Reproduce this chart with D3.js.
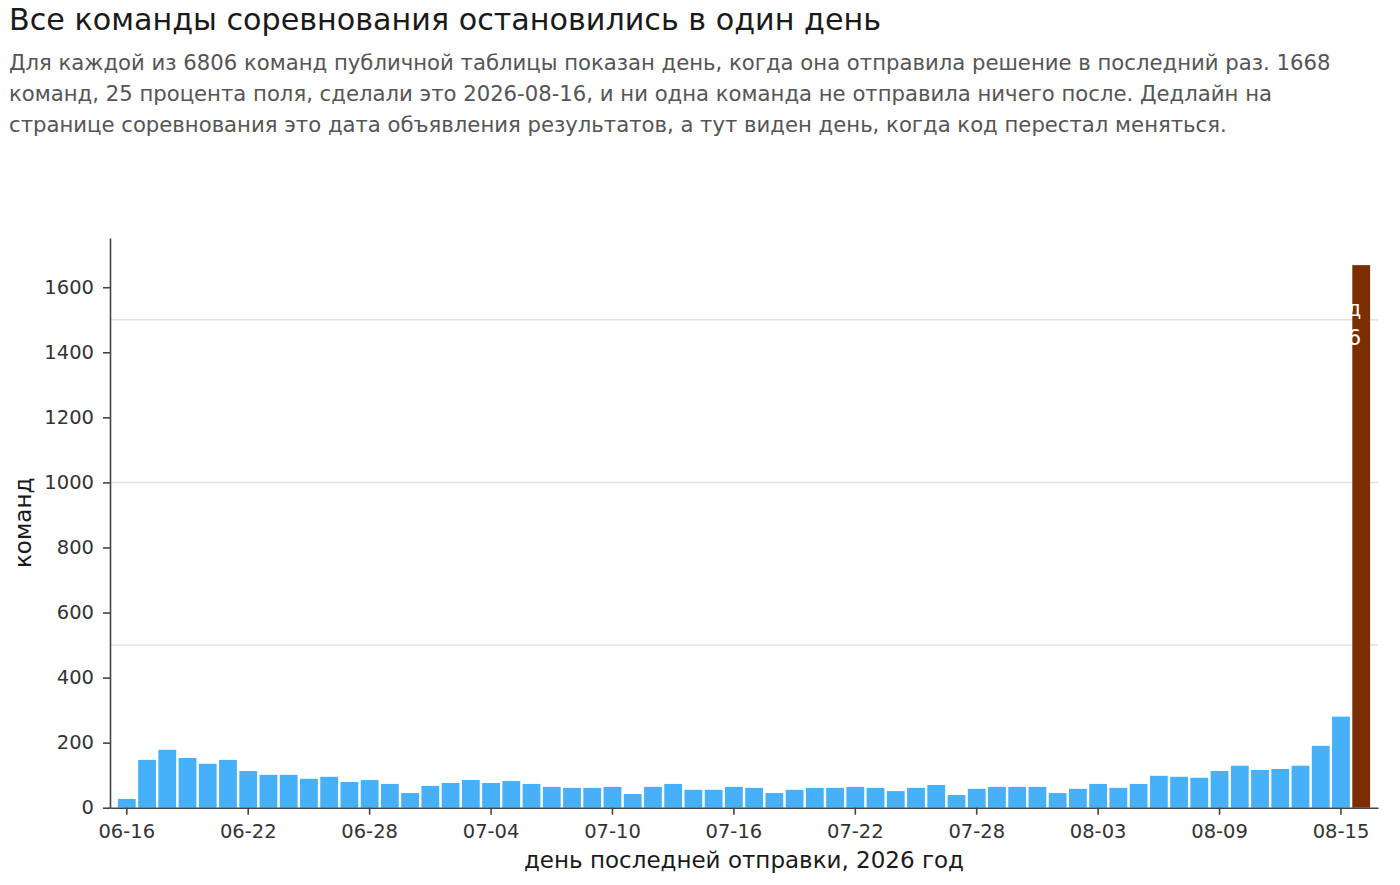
<!DOCTYPE html>
<html>
<head>
<meta charset="utf-8">
<script src="https://cdn.jsdelivr.net/npm/d3@7"></script>
<style>
  html, body { margin: 0; padding: 0; background: #fff; }
  text { font-family: "DejaVu Sans", sans-serif; }
</style>
</head>
<body>
<script>
const days = [
  "06-16","06-17","06-18","06-19","06-20","06-21","06-22","06-23","06-24","06-25",
  "06-26","06-27","06-28","06-29","06-30","07-01","07-02","07-03","07-04","07-05",
  "07-06","07-07","07-08","07-09","07-10","07-11","07-12","07-13","07-14","07-15",
  "07-16","07-17","07-18","07-19","07-20","07-21","07-22","07-23","07-24","07-25",
  "07-26","07-27","07-28","07-29","07-30","07-31","08-01","08-02","08-03","08-04",
  "08-05","08-06","08-07","08-08","08-09","08-10","08-11","08-12","08-13","08-14",
  "08-15","08-16"
];
const teams = [
  27,147,178,153,135,147,113,101,101,89,
  95,79,85,73,45,67,76,85,76,82,
  73,64,61,61,64,42,64,73,55,55,
  64,61,45,55,61,61,64,61,51,61,
  70,39,58,64,64,64,45,58,73,61,
  73,98,95,92,113,129,116,119,129,190,
  280,1668
];
const lastDay = "08-16";
const xTicks = ["06-16","06-22","06-28","07-04","07-10","07-16","07-22","07-28","08-03","08-09","08-15"];
const yTicks = [0,200,400,600,800,1000,1200,1400,1600];
const gridValues = [500,1000,1500];
const titleText = "Все команды соревнования остановились в один день";
const subtitleLines = [
  "Для каждой из 6806 команд публичной таблицы показан день, когда она отправила решение в последний раз. 1668",
  "команд, 25 процента поля, сделали это 2026-08-16, и ни одна команда не отправила ничего после. Дедлайн на",
  "странице соревнования это дата объявления результатов, а тут виден день, когда код перестал меняться."
];
const barLabelLines = ["1668 команд", "2026-08-16"];
const xLabel = "день последней отправки, 2026 год";
const yLabel = "команд";

const W = 1400, H = 885;
const L = 110, R = 1378, T = 238, B = 807.7;

const svg = d3.select("body").append("svg").attr("width", W).attr("height", H);

svg.append("text").attr("x", 9).attr("y", 30)
  .attr("font-size", 30.2).attr("fill", "#1a1a1a").text(titleText);

svg.append("g").selectAll("text").data(subtitleLines).join("text")
  .attr("x", 9).attr("y", (d, i) => 69.5 + i * 31)
  .attr("font-size", 21.2).attr("fill", "#555").text(d => d);

const x = d3.scaleBand().domain(days).range([L, R]).paddingInner(0.12).paddingOuter(0.39);
const y = d3.scaleLinear().domain([0, d3.max(teams) * 1.05]).range([B, T]);

// grid
svg.append("g").selectAll("line").data(gridValues).join("line")
  .attr("x1", L).attr("x2", R)
  .attr("y1", d => y(d)).attr("y2", d => y(d))
  .attr("stroke", "#e2e2e2").attr("stroke-width", 1.5);

// bars
const data = days.map((d, i) => ({ day: d, v: teams[i] }));
svg.append("g").selectAll("rect").data(data).join("rect")
  .attr("x", d => x(d.day)).attr("width", x.bandwidth())
  .attr("y", d => y(d.v)).attr("height", d => y(0) - y(d.v))
  .attr("fill", d => d.day === lastDay ? "#7b2e00" : "#46b0f8");

// label inside last bar (white, anchored at bar centre)
const lastVal = teams[days.indexOf(lastDay)];
svg.append("g").selectAll("text").data(barLabelLines).join("text")
  .attr("x", x(lastDay) + x.bandwidth() / 2)
  .attr("y", (d, i) => y(lastVal) + 51 + i * 29)
  .attr("text-anchor", "end").attr("font-size", 21).attr("fill", "#fff").text(d => d);

// axes
const xAxis = svg.append("g").attr("transform", `translate(0,${B})`)
  .call(d3.axisBottom(x).tickValues(xTicks).tickSize(7).tickSizeOuter(0).tickPadding(9));
const yAxis = svg.append("g").attr("transform", `translate(${L},0)`)
  .call(d3.axisLeft(y).tickValues(yTicks).tickFormat(d3.format("d")).tickSize(7).tickSizeOuter(0).tickPadding(9));
[xAxis, yAxis].forEach(g => {
  g.selectAll("path.domain").attr("stroke", "#444").attr("stroke-width", 1.6);
  g.selectAll(".tick line").attr("stroke", "#444").attr("stroke-width", 1.6);
  g.selectAll(".tick text").attr("font-size", 19.5).attr("fill", "#333")
    .attr("font-family", "DejaVu Sans, sans-serif");
});

svg.append("text").attr("x", (L + R) / 2).attr("y", 868)
  .attr("text-anchor", "middle").attr("font-size", 23).attr("fill", "#1a1a1a").text(xLabel);

svg.append("text").attr("transform", `translate(31,${(T + B) / 2}) rotate(-90)`)
  .attr("text-anchor", "middle").attr("font-size", 23).attr("fill", "#1a1a1a").text(yLabel);
</script>
</body>
</html>
